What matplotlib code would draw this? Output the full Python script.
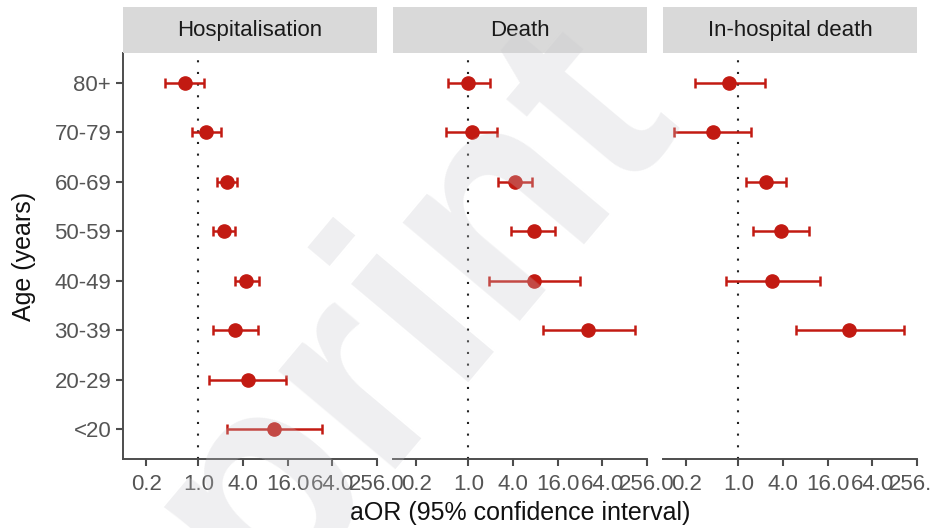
import numpy as np
import matplotlib
matplotlib.use("Agg")
import matplotlib.pyplot as plt

plt.rcParams["font.family"] = ["Liberation Sans", "DejaVu Sans"]

# Age groups, bottom to top
ages = ["<20", "20-29", "30-39", "40-49", "50-59", "60-69", "70-79", "80+"]
nan = np.nan

panels = ["Hospitalisation", "Death", "In-hospital death"]

hosp_or = [10.6, 4.67, 3.16, 4.44, 2.19, 2.42, 1.27, 0.66]
hosp_lo = [2.4, 1.4, 1.56, 3.1, 1.59, 1.8, 0.82, 0.36]
hosp_hi = [46.0, 15.2, 6.35, 6.5, 3.13, 3.3, 2.0, 1.2]

death_or = [nan, nan, 41.6, 7.6, 7.6, 4.2, 1.11, 1.0]
death_lo = [nan, nan, 10.1, 1.91, 3.8, 2.52, 0.50, 0.54]
death_hi = [nan, nan, 175.0, 31.9, 14.9, 7.3, 2.44, 1.95]

ihd_or = [nan, nan, 31.5, 2.88, 3.72, 2.35, 0.45, 0.76]
ihd_lo = [nan, nan, 5.9, 0.68, 1.56, 1.27, 0.136, 0.26]
ihd_hi = [nan, nan, 170.0, 12.5, 8.9, 4.43, 1.5, 2.3]

x_ticks = [0.2, 1.0, 4.0, 16.0, 64.0, 256.0]
x_tick_labels = ["0.2", "1.0", "4.0", "16.0", "64.0", "256.0"]

series = [(hosp_or, hosp_lo, hosp_hi),
          (death_or, death_lo, death_hi),
          (ihd_or, ihd_lo, ihd_hi)]

W, H = 931, 528
fig = plt.figure(figsize=(W / 100, H / 100), dpi=100)

red = "#C21A12"
axis_col = "#4D4D4D"
tick_text = "#555555"

lefts = [123, 393, 663]
pw = 254
top, bottom = 53, 459
strip_top = 7

for i, (title, (orv, lo, hi)) in enumerate(zip(panels, series)):
    ax = fig.add_axes([lefts[i] / W, 1 - bottom / H, pw / W, (bottom - top) / H])
    orv = np.array(orv, float)
    lo = np.array(lo, float)
    hi = np.array(hi, float)
    y = np.arange(len(ages))
    ok = ~np.isnan(orv)
    ax.axvline(1.0, color="#222222", linestyle=(0, (1, 4.6)), linewidth=1.5, zorder=1)
    ax.errorbar(orv[ok], y[ok], xerr=[orv[ok] - lo[ok], hi[ok] - orv[ok]],
                fmt="o", color=red, ecolor=red, markersize=9.5, elinewidth=1.8,
                capsize=3.5, capthick=1.8, zorder=3)
    ax.set_xscale("log")
    ax.set_xlim(0.0966, 256)
    ax.set_ylim(-0.6, len(ages) - 0.4)
    ax.set_xticks(x_ticks)
    ax.set_xticklabels(x_tick_labels)
    ax.minorticks_off()
    ax.tick_params(axis="x", colors=axis_col, labelcolor=tick_text, labelsize=16,
                   length=5, width=1.5, direction="out", pad=6)
    for s in ["top", "right"]:
        ax.spines[s].set_visible(False)
    ax.spines["bottom"].set_color(axis_col)
    ax.spines["bottom"].set_linewidth(1.4)
    if i == 0:
        ax.set_yticks(y)
        ax.set_yticklabels(ages)
        ax.tick_params(axis="y", colors=axis_col, labelcolor=tick_text, labelsize=16,
                       length=5, width=1.5, direction="out", pad=3.5)
        ax.spines["left"].set_color(axis_col)
        ax.spines["left"].set_linewidth(1.4)
        ax.set_ylabel("Age (years)", fontsize=18, color="#111111")
        ax.yaxis.set_label_coords((36 - lefts[0]) / pw, 0.5)
    else:
        ax.set_yticks([])
        ax.spines["left"].set_visible(False)

    # facet strip
    sax = fig.add_axes([lefts[i] / W, 1 - top / H, pw / W, (top - strip_top) / H])
    sax.set_facecolor("#D9D9D9")
    sax.set_xticks([])
    sax.set_yticks([])
    for s in sax.spines.values():
        s.set_visible(False)
    sax.text(0.5, (top - 36) / (top - strip_top), title, ha="center", va="baseline",
             fontsize=16, color="#1A1A1A", transform=sax.transAxes)

fig.text(520 / W, 1 - 513 / H, "aOR (95% confidence interval)", ha="center",
         va="center", fontsize=18, color="#111111")

# diagonal watermark
fig.text(-27 / W, 1 - 950 / H, "preprint", rotation=50, rotation_mode="anchor",
         ha="left", va="baseline", fontsize=209, fontweight="semibold",
         color="#C7C7CC", alpha=0.28, zorder=10)

fig.savefig("out.png", dpi=100)
